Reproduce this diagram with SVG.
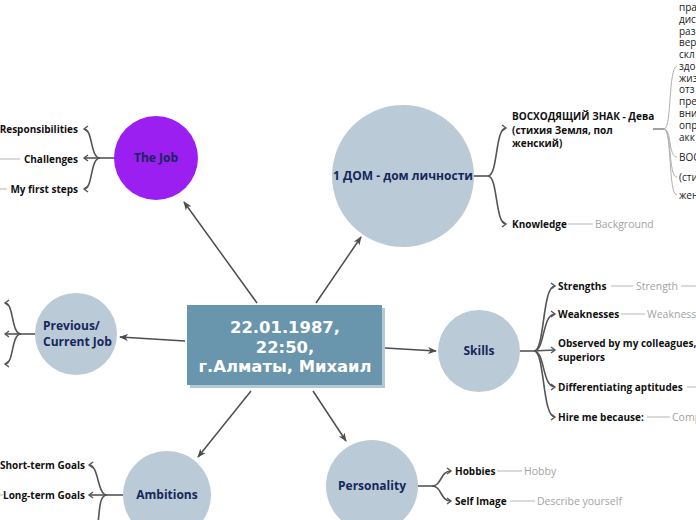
<svg xmlns="http://www.w3.org/2000/svg" width="696" height="520" viewBox="0 0 696 520">
<defs>
<marker id="ah" markerWidth="10" markerHeight="8" refX="8" refY="4" orient="auto" markerUnits="userSpaceOnUse">
<path d="M0,0.5 L9,4 L0,7.5 L2.5,4 z" fill="#4d4d4d"/>
</marker>
<marker id="ch" markerWidth="8" markerHeight="8" refX="5" refY="4" orient="auto" markerUnits="userSpaceOnUse">
<path d="M1,1 L5,4 L1,7" fill="none" stroke="#555" stroke-width="1.4"/>
</marker>
<style>
.circ{fill:#bacbd7}
.nt{font-family:"Open Sans","Noto Sans",sans-serif;font-weight:700;font-size:12px;fill:#14275a;text-anchor:middle}
.ntl{font-family:"Open Sans","Noto Sans",sans-serif;font-weight:700;font-size:12px;fill:#14275a;text-anchor:start}
.ct{font-family:"DejaVu Sans",sans-serif;font-weight:700;font-size:16.4px;fill:#ffffff;text-anchor:middle}
.lb{font-family:"Open Sans","Noto Sans",sans-serif;font-weight:700;font-size:10px;fill:#111}
.lbr{font-family:"Open Sans","Noto Sans",sans-serif;font-weight:700;font-size:10px;fill:#111;text-anchor:end}
.gt{font-family:"Open Sans","Noto Sans",sans-serif;font-size:10.5px;fill:#a3a3a3}
.rt{font-family:"Open Sans","Noto Sans",sans-serif;font-size:10px;fill:#222}
.main{fill:none;stroke:#4d4d4d;stroke-width:1.5;marker-end:url(#ah)}
.br{fill:none;stroke:#555;stroke-width:1.6}
.bra{fill:none;stroke:#555;stroke-width:1.6;marker-end:url(#ch)}
.gl{fill:none;stroke:#b5b5b5;stroke-width:1}
.gc{fill:none;stroke:#b0b0b0;stroke-width:1}
</style>
</defs>
<rect width="696" height="520" fill="#ffffff"/>

<g id="connectors">
<path class="main" d="M257,303 L184,202"/>
<path class="main" d="M316,303 L361,237"/>
<path class="main" d="M185,341 L120,337"/>
<path class="main" d="M385,348 L436,351"/>
<path class="main" d="M251,391 L198,457"/>
<path class="main" d="M313,391 L346,441"/>

<path class="br" d="M114,158 H100"/>
<path class="bra" d="M100,158 C90,158 93,129 84,129"/>
<path class="bra" d="M100,158 H84"/>
<path class="bra" d="M100,158 C90,158 93,189 84,189"/>
<path class="gl" d="M0,159 H20 M0,189 H7"/>

<path class="br" d="M35,334 H21"/>
<path class="bra" d="M21,334 C11,334 14,303 5,303"/>
<path class="bra" d="M21,334 H5"/>
<path class="bra" d="M21,334 C11,334 14,364 5,364"/>

<path class="br" d="M474,176 H488"/>
<path class="bra" d="M488,176 C498,176 495,128 506,128"/>
<path class="bra" d="M488,176 C498,176 495,224 506,224"/>
<path class="gl" d="M568,224 H593"/>

<path d="M653,129 H664" fill="none" stroke="#8a8a8a" stroke-width="1.6"/>
<path class="gc" d="M664,129 C672,129 668,68 677,66"/>
<path class="gc" d="M664,129 C672,129 668,157 677,157"/>
<path class="gc" d="M664,129 C672,129 668,177 677,177"/>
<path class="gc" d="M664,129 C672,129 668,195 677,195"/>

<path class="br" d="M520,351 H534"/>
<path class="bra" d="M534,351 C545,351 542,286 555,286"/>
<path class="bra" d="M534,351 C545,351 542,314 555,314"/>
<path class="bra" d="M534,351 C542,351 545,350 555,350"/>
<path class="bra" d="M534,351 C545,351 542,387 555,387"/>
<path class="bra" d="M534,351 C545,351 542,417 555,417"/>
<path class="gl" d="M611,286 H633 M681,286 H696 M621,314 H645 M687,387 H696 M647,417 H670"/>

<path class="br" d="M418,486 H432"/>
<path class="bra" d="M432,486 C442,486 440,471 451,471"/>
<path class="bra" d="M432,486 C442,486 440,501 451,501"/>
<path class="gl" d="M497,471 H522 M510,501 H535"/>

<path class="br" d="M123,495 H107"/>
<path class="bra" d="M107,495 C97,495 99,465 89,465"/>
<path class="bra" d="M107,495 H89"/>
<path class="br" d="M107,495 C98,495 100,515 97,530"/>
<path class="gl" d="M0,495 H3"/>
</g>

<g id="center">
<rect x="190" y="308" width="195" height="80" fill="#b3c9d7"/>
<rect x="187" y="305" width="195" height="80" fill="#6995ad"/>
<text class="ct" x="285" y="333">22.01.1987,</text>
<text class="ct" x="285" y="353">22:50,</text>
<text class="ct" x="285" y="372">г.Алматы, Михаил</text>
</g>

<g id="job">
<circle cx="156" cy="158" r="42" fill="#9a1ff0"/>
<text class="nt" x="156" y="162">The Job</text>
</g>
<g id="job-children">
<text class="lbr" x="78" y="133">Responsibilities</text>
<text class="lbr" x="78" y="163">Challenges</text>
<text class="lbr" x="78" y="193">My first steps</text>
</g>

<g id="dom">
<circle class="circ" cx="403" cy="176" r="71"/>
<text class="nt" x="403" y="180" font-size="11.5">1 ДОМ - дом личности</text>
</g>
<g id="dom-children">
<text class="lb" x="512" y="120">ВОСХОДЯЩИЙ ЗНАК - Дева</text>
<text class="lb" x="512" y="134">(стихия Земля, пол</text>
<text class="lb" x="512" y="147">женский)</text>
<text class="lb" x="512" y="228">Knowledge</text>
<text class="gt" x="595" y="228">Background</text>
</g>
<g id="asc-children">
<text class="rt" x="679" y="11">пра</text>
<text class="rt" x="679" y="23">дис</text>
<text class="rt" x="679" y="35">раз</text>
<text class="rt" x="679" y="46">вер</text>
<text class="rt" x="679" y="58">скл</text>
<text class="rt" x="679" y="70">здо</text>
<text class="rt" x="679" y="82">жиз</text>
<text class="rt" x="679" y="93">отз</text>
<text class="rt" x="679" y="105">пре</text>
<text class="rt" x="679" y="117">вни</text>
<text class="rt" x="679" y="129">опр</text>
<text class="rt" x="679" y="141">акк</text>
<text class="rt" x="679" y="161">ВОС</text>
<text class="rt" x="679" y="181">(сти</text>
<text class="rt" x="679" y="199">жен</text>
</g>

<g id="previous">
<circle class="circ" cx="76" cy="334" r="41"/>
<text class="ntl" x="43" y="330">Previous/</text>
<text class="ntl" x="43" y="346">Current Job</text>
</g>

<g id="skills">
<circle class="circ" cx="479" cy="351" r="41"/>
<text class="nt" x="479" y="355">Skills</text>
</g>
<g id="skills-children">
<text class="lb" x="558" y="290">Strengths</text>
<text class="gt" x="636" y="290">Strength</text>
<text class="lb" x="558" y="318">Weaknesses</text>
<text class="gt" x="647" y="318">Weakness</text>
<text class="lb" x="558" y="347">Observed by my colleagues,</text>
<text class="lb" x="558" y="361">superiors</text>
<text class="lb" x="558" y="391">Differentiating aptitudes</text>
<text class="lb" x="558" y="421">Hire me because:</text>
<text class="gt" x="672" y="421">Comp</text>
</g>

<g id="personality">
<circle class="circ" cx="372" cy="486" r="46"/>
<text class="nt" x="372" y="490">Personality</text>
</g>
<g id="personality-children">
<text class="lb" x="455" y="475">Hobbies</text>
<text class="gt" x="524" y="475">Hobby</text>
<text class="lb" x="455" y="505">Self Image</text>
<text class="gt" x="537" y="505">Describe yourself</text>
</g>

<g id="ambitions">
<circle class="circ" cx="167" cy="495" r="44"/>
<text class="nt" x="167" y="499">Ambitions</text>
</g>
<g id="ambitions-children">
<text class="lbr" x="85" y="469">Short-term Goals</text>
<text class="lbr" x="85" y="499">Long-term Goals</text>
</g>
</svg>
